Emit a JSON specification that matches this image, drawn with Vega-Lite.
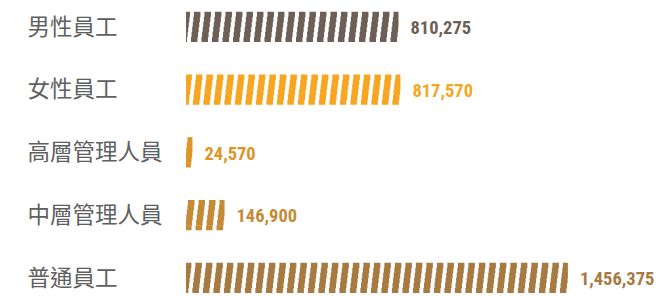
{
  "$schema": "https://vega.github.io/schema/vega-lite/v6.json",
  "width": 472,
  "height": 251,
  "autosize": "none",
  "padding": {"left": 186, "top": 27, "right": 0, "bottom": 18},
  "background": "white",
  "config": {"view": {"stroke": null}},
  "data": {
    "values": [
      {"category": "男性員工", "value": 810275},
      {"category": "女性員工", "value": 817570},
      {"category": "高層管理人員", "value": 24570},
      {"category": "中層管理人員", "value": 146900},
      {"category": "普通員工", "value": 1456375}
    ]
  },
  "encoding": {
    "y": {
      "field": "category",
      "type": "nominal",
      "sort": null,
      "scale": {"type": "point", "padding": 0},
      "axis": {
        "title": null,
        "domain": false,
        "ticks": false,
        "labelAlign": "left",
        "labelBaseline": "middle",
        "labelPadding": 159,
        "labelFontSize": 22.5,
        "labelFont": "Noto Sans CJK TC",
        "labelColor": "#606060"
      }
    },
    "x": {"field": "value", "type": "quantitative", "scale": {"domain": [0, 1800000]}, "axis": null},
    "color": {
      "field": "category",
      "type": "nominal",
      "sort": null,
      "scale": {
        "domain": ["男性員工", "女性員工", "高層管理人員", "中層管理人員", "普通員工"],
        "range": ["#6e5f56", "#f6a620", "#dd9526", "#c48a35", "#a67a40"]
      },
      "legend": null
    }
  },
  "layer": [
    {"mark": {"type": "rule", "strokeWidth": 5.6, "strokeDash": [6.5, 4], "strokeDashOffset": 1.5, "yOffset": -12.5, "strokeCap": "butt"},
     "encoding": {"x2": {"datum": 0}}},
    {"mark": {"type": "rule", "strokeWidth": 5.6, "strokeDash": [6.5, 4], "strokeDashOffset": 0.9, "yOffset": -7.5, "strokeCap": "butt"},
     "encoding": {"x2": {"datum": 0}}},
    {"mark": {"type": "rule", "strokeWidth": 5.6, "strokeDash": [6.5, 4], "strokeDashOffset": 0.3, "yOffset": -2.5, "strokeCap": "butt"},
     "encoding": {"x2": {"datum": 0}}},
    {"mark": {"type": "rule", "strokeWidth": 5.6, "strokeDash": [6.5, 4], "strokeDashOffset": -0.3, "yOffset": 2.5, "strokeCap": "butt"},
     "encoding": {"x2": {"datum": 0}}},
    {"mark": {"type": "rule", "strokeWidth": 5.6, "strokeDash": [6.5, 4], "strokeDashOffset": -0.9, "yOffset": 7.5, "strokeCap": "butt"},
     "encoding": {"x2": {"datum": 0}}},
    {"mark": {"type": "rule", "strokeWidth": 5, "strokeDash": [6.5, 4], "strokeDashOffset": -1.5, "yOffset": 12.5, "strokeCap": "butt"},
     "encoding": {"x2": {"datum": 0}}},
    {"mark": {"type": "text", "align": "left", "baseline": "middle", "dx": 12, "dy": 1, "fontSize": 18.5, "fontWeight": "bold", "font": "Roboto Condensed"},
     "encoding": {"text": {"field": "value", "type": "quantitative", "format": ","}}}
  ]
}
